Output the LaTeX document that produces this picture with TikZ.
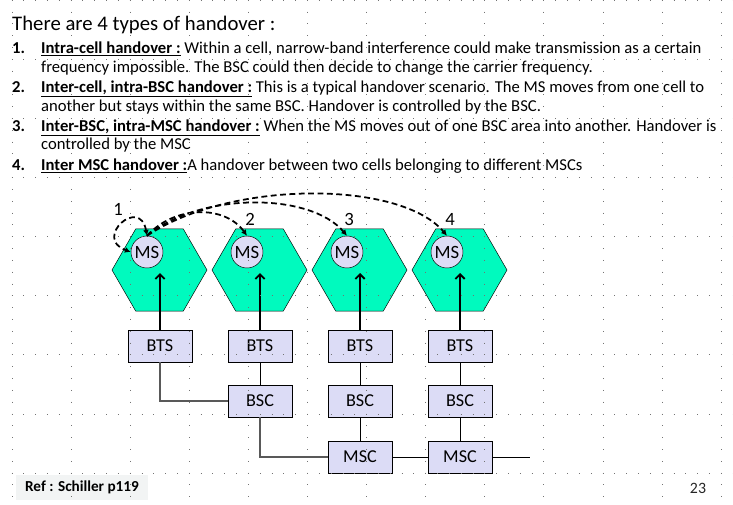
\documentclass[tikz,border=0pt]{standalone}
\usepackage{fontspec}
\setmainfont{Carlito}
\usetikzlibrary{shapes.geometric}
\usetikzlibrary{arrows.meta}
\definecolor{cellgreen}{RGB}{0,250,190}
\definecolor{boxblue}{RGB}{220,220,246}
\definecolor{refgray}{RGB}{242,244,244}

\begin{document}
\begin{tikzpicture}[x=0.03cm,y=0.03cm,
  cell/.style={regular polygon,regular polygon sides=6,minimum size=2.85cm,
    inner sep=0pt,draw,fill=cellgreen},
  ms/.style={circle,draw,fill=boxblue,minimum size=0.96cm,inner sep=0pt,
    font=\fontsize{16}{18}\selectfont},
  unit/.style={rectangle,draw,fill=boxblue,minimum width=1.92cm,
    minimum height=0.96cm,inner sep=0pt,font=\fontsize{15.5}{18}\selectfont},
  hand/.style={dash pattern=on 5pt off 3pt,line width=1.5pt,
    -{Latex[length=5pt,width=5pt]}},
  up/.style={line width=1.6pt,-{Straight Barb[length=4pt,width=8pt]}},
  link/.style={line width=1.2pt,black!65},
  body/.style={anchor=base west,inner sep=0pt,font=\fontsize{14.2}{16}\selectfont},
  griddot/.style={line width=0.85pt,black!55,dash pattern=on 0.85pt off 9.24pt},
  ]
  \useasboundingbox (0,0) rectangle (733,-504);

  % text of the slide
  \node[body,font=\fontsize{17.7}{20}\selectfont] (title) at (12,-30)
    {There are 4 types of handover :};
  \node[body] (n1) at (12,-53) {\textbf{1.}};
  \node[body] (t1) at (41,-53) {\underline{\textbf{Intra-cell handover :}} Within a cell,
    narrow-band interference could make transmission as a certain};
  \node[body] (t1b) at (41,-72) {frequency impossible. The BSC could then decide to
    change the carrier frequency.};
  \node[body] (n2) at (12,-92) {\textbf{2.}};
  \node[body] (t2) at (41,-92) {\underline{\textbf{Inter-cell, intra-BSC handover :}}
    This is a typical handover scenario. The MS moves from one cell to};
  \node[body] (t2b) at (41,-111) {another but stays within the same BSC. Handover is
    controlled by the BSC.};
  \node[body] (n3) at (12,-131) {\textbf{3.}};
  \node[body] (t3) at (41,-131) {\underline{\textbf{Inter-BSC, intra-MSC handover :}}
    When the MS moves out of one BSC area into another. Handover is};
  \node[body] (t3b) at (41,-149) {controlled by the MSC};
  \node[body] (n4) at (12,-170) {\textbf{4.}};
  \node[body] (t4) at (41,-170) {\underline{\textbf{Inter MSC handover :}}A handover
    between two cells belonging to different MSCs};

  % cells, mobiles and base stations
  \foreach \i/\x in {1/160,2/260,3/360,4/460} {
    \node[cell] (c\i) at (\x-0.5,-270) {};
    \node[ms] (ms\i) at (\x-13,-252) {MS};
    \node[unit] (bts\i) at (\x,-346) {BTS};
    \coordinate (tip\i) at (\x,-273);
    \draw[up] (bts\i.north) -- (tip\i);
  }
  \node[unit] (bsc1) at (260,-401) {BSC};
  \node[unit] (bsc2) at (360,-401) {BSC};
  \node[unit] (bsc3) at (460,-401) {BSC};
  \node[unit] (msc1) at (360,-457) {MSC};
  \node[unit] (msc2) at (460,-457) {MSC};
  \coordinate (out) at (530,-457);

  \draw[link] (bts1.south) |- (bsc1.west);
  \draw[link] (bsc1.south) |- (msc1.west);
  \draw (bts2) -- (bsc1);
  \draw (bts3) -- (bsc2) -- (msc1);
  \draw (bts4) -- (bsc3) -- (msc2);
  \draw (msc1) -- (msc2) -- (out);

  % handover paths
  \draw[hand,{Latex[length=5pt,width=5pt]}-{Latex[length=5pt,width=5pt]}]
    (ms1.north) to[out=100,in=160,looseness=4.5] (ms1.west);
  \draw[hand] (ms1.north) .. controls (175,-205) and (225,-205) .. (ms2.north);
  \draw[hand] (ms1.north) .. controls (200,-192) and (310,-192) .. (ms3.north);
  \draw[hand] (ms1.north) .. controls (230,-180) and (400,-180) .. (ms4.north);
  \node[font=\fontsize{16}{18}\selectfont] (l1) at (118,-209) {1};
  \node[font=\fontsize{16}{18}\selectfont] (l2) at (250,-219) {2};
  \node[font=\fontsize{16}{18}\selectfont] (l3) at (349,-219) {3};
  \node[font=\fontsize{16}{18}\selectfont] (l4) at (450,-219) {4};

  % footer
  \node[fill=refgray,minimum width=3.96cm,minimum height=0.75cm,
    font=\bfseries\fontsize{13}{15}\selectfont] (ref) at (82,-487.5)
    {Ref : Schiller p119};
  \node[font=\fontsize{13.5}{15}\selectfont,black!85] (page) at (698,-488) {23};

  % slide grid
  \foreach \r in {0,...,8}
    \draw[griddot] (11.5,{-0.3-59.1*\r}) -- (733,{-0.3-59.1*\r});
  \foreach \c in {0,...,12}
    \draw[griddot] ({12+59.1*\c},0.2) -- ({12+59.1*\c},-504);
\end{tikzpicture}
\end{document}
